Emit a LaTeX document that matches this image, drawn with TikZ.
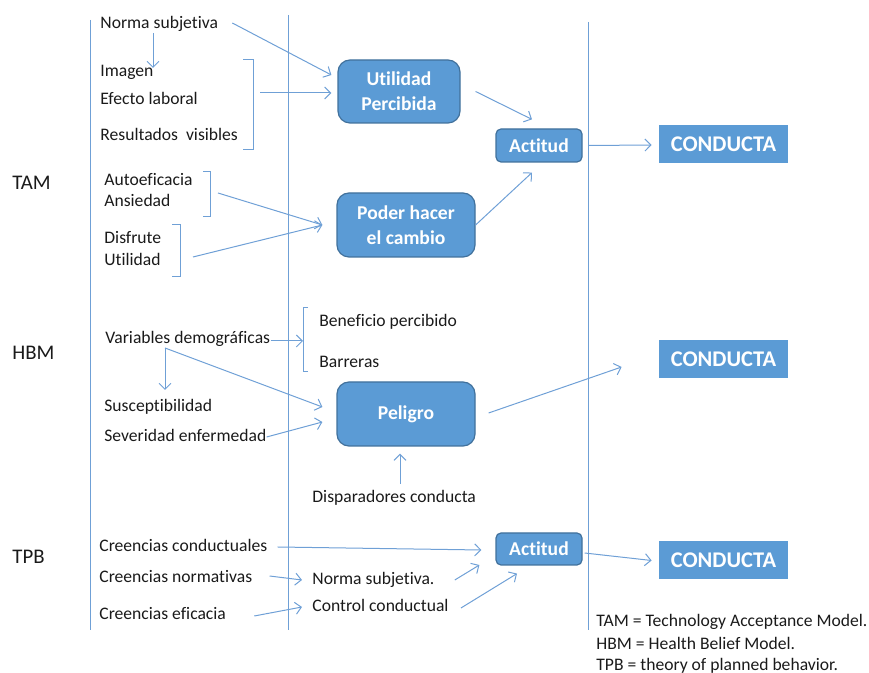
\documentclass[tikz,border=0pt]{standalone}
\usepackage{fontspec}
\setmainfont{Carlito}[Ligatures=NoCommon]
\usetikzlibrary{calc, arrows.meta}
\definecolor{Caja}{HTML}{5B9BD5}
\definecolor{Borde}{HTML}{41719C}
\definecolor{Linea}{HTML}{6FA0D6}
\definecolor{Texto}{HTML}{1A1A1A}
\tikzset{
    etiqueta/.style={anchor=west, inner sep=0pt, text=Texto, font=\fontsize{8.8}{10.5}\selectfont, text height=7pt, text depth=1.5pt},
    modelo/.style={anchor=west, inner sep=0pt, text=Texto, font=\fontsize{10.4}{12}\selectfont},
    caja/.style={rectangle, rounded corners=6pt, fill=Caja, draw=Borde, line width=0.6pt, text=white, align=center, font=\bfseries\fontsize{9.8}{12.5}\selectfont},
    conducta/.style={rectangle, fill=Caja, text=white, font=\bfseries\fontsize{11.2}{13}\selectfont, minimum width=64.5pt, minimum height=19pt},
    flecha/.style={-{Straight Barb[length=3pt, width=6pt]}, Linea, line width=0.5pt},
    guia/.style={Linea, line width=0.5pt},
}

\begin{document}
\begin{tikzpicture}[x=0.5pt, y=-0.5pt]
    \useasboundingbox (0,0) rectangle (869,673);

    % Lineas verticales
    \draw[guia] (90,20) -- (90,630);
    \draw[guia] (288,15) -- (288,630);
    \draw[guia] (588,22) -- (588,630);

    % Modelos
    \node[modelo] (tam) at (12,183) {TAM};
    \node[modelo] (hbm) at (12,353) {HBM};
    \node[modelo] (tpb) at (12,557) {TPB};

    % TAM
    \node[etiqueta] (normaT) at (100,23) {Norma subjetiva};
    \node[etiqueta] (imagen) at (100,71) {Imagen};
    \node[etiqueta] (efecto) at (100,99) {Efecto laboral};
    \node[etiqueta] (resultados) at (100,135) {Resultados\ \ visibles};
    \node[etiqueta] (autoef) at (104,180) {Autoeficacia};
    \node[etiqueta] (ansiedad) at (104,201) {Ansiedad};
    \node[etiqueta] (disfrute) at (104,238) {Disfrute};
    \node[etiqueta] (utilT) at (104,260) {Utilidad};

    \node[caja, minimum width=61pt, minimum height=31.5pt] (util) at (399,91.5) {Utilidad\\Percibida};
    \node[caja, minimum width=69pt, minimum height=32pt] (poder) at (406,225) {Poder hacer\\el cambio};
    \node[caja, rounded corners=2.5pt, minimum width=43pt, minimum height=16.5pt] (actA) at (539,145.5) {Actitud};
    \node[conducta] (cond1) at (723.5,144) {CONDUCTA};

    % Llaves
    \draw[guia] (243,60) -- (253,60) -- (253,150) -- (243,150);
    \draw[guia] (203,172) -- (210,172) -- (210,217) -- (203,217);
    \draw[guia] (172,225) -- (180,225) -- (180,277) -- (172,277);
    \coordinate (brA) at (253,93);
    \coordinate (brB) at (210,194);
    \coordinate (brC) at (180,251);

    \draw[flecha] ($(normaT.east)+(14,0)$) -- ($(util.west)+(-6,-16.5)$);
    \draw[flecha] ($(normaT.west)+(53,10)$) -- ($(imagen.west)+(53,-3)$);
    \draw[flecha] ($(brA)+(7,0)$) -- ($(util.west)+(-6,1.5)$);
    \draw[flecha] ($(brB)+(8,-1)$) -- ($(poder.west)+(-14,0)$);
    \draw[flecha] ($(brC)+(13,6)$) -- ($(poder.west)+(-14,0)$);
    \draw[flecha] ($(util.east)+(15,0)$) -- ($(actA.north)+(-7,-9)$);
    \draw[flecha] (poder.east) -- ($(actA.south)+(-7,10)$);
    \draw[flecha] ($(actA.east)+(6,0)$) -- ($(cond1.west)+(-7,1)$);

    % HBM
    \node[etiqueta] (vars) at (105,338) {Variables demográficas};
    \node[etiqueta] (benef) at (319,321) {Beneficio percibido};
    \node[etiqueta] (barreras) at (319,362) {Barreras};
    \node[etiqueta] (susc) at (104,406) {Susceptibilidad};
    \node[etiqueta] (sever) at (104,436) {Severidad enfermedad};
    \node[etiqueta] (disp) at (312,497) {Disparadores conducta};

    \node[caja, minimum width=69pt, minimum height=32pt] (peligro) at (406,414) {Peligro};
    \node[conducta] (cond2) at (723.5,359) {CONDUCTA};

    \draw[guia] (308,308) -- (303,308) -- (303,372) -- (308,372);
    \coordinate (brD) at (303,341);

    \draw[flecha] ($(vars.east)+(0,3)$) -- (brD);
    \draw[flecha] ($(vars.west)+(60,10)$) -- ($(susc.west)+(61,-16)$);
    \draw[flecha] ($(vars.west)+(60,10)$) -- ($(peligro.west)+(-14,-7)$);
    \draw[flecha] ($(sever.east)+(0,1)$) -- ($(peligro.west)+(-14,8)$);
    \draw[flecha] ($(peligro.south)+(-6,37)$) -- ($(peligro.south)+(-6,7)$);
    \draw[flecha] ($(peligro.east)+(13,-1)$) -- ($(cond2.west)+(-37,8)$);

    % TPB
    \node[etiqueta] (cc) at (99,546) {Creencias conductuales};
    \node[etiqueta] (cn) at (99,577) {Creencias normativas};
    \node[etiqueta] (ce) at (99,614) {Creencias eficacia};
    \node[etiqueta] (nsT) at (312,579) {Norma subjetiva.};
    \node[etiqueta] (ctrl) at (312,606) {Control conductual};

    \node[caja, rounded corners=2.5pt, minimum width=43pt, minimum height=16pt] (actB) at (539,549) {Actitud};
    \node[conducta] (cond3) at (723.5,560.5) {CONDUCTA};

    \draw[flecha] ($(cc.east)+(10,1)$) -- ($(actB.west)+(-14,1)$);
    \draw[flecha] ($(cn.east)+(17,-1)$) -- ($(nsT.west)+(-10,1)$);
    \draw[flecha] ($(nsT.east)+(20,1)$) -- ($(actB.west)+(-16,16)$);
    \draw[flecha] ($(ce.east)+(28,2)$) -- ($(ctrl.west)+(-10,1)$);
    \draw[flecha] ($(ctrl.east)+(12,2)$) -- ($(actB.south)+(-22,8)$);
    \draw[flecha] ($(actB.east)+(2,4)$) -- ($(cond3.west)+(-7,0)$);

    % Leyenda
    \node[etiqueta] (leyTam) at (596,621) {TAM = Technology Acceptance Model.};
    \node[etiqueta] (leyHbm) at (596,644) {HBM = Health Belief Model.};
    \node[etiqueta] (leyTpb) at (596,665) {TPB = theory of planned behavior.};
\end{tikzpicture}
\end{document}
